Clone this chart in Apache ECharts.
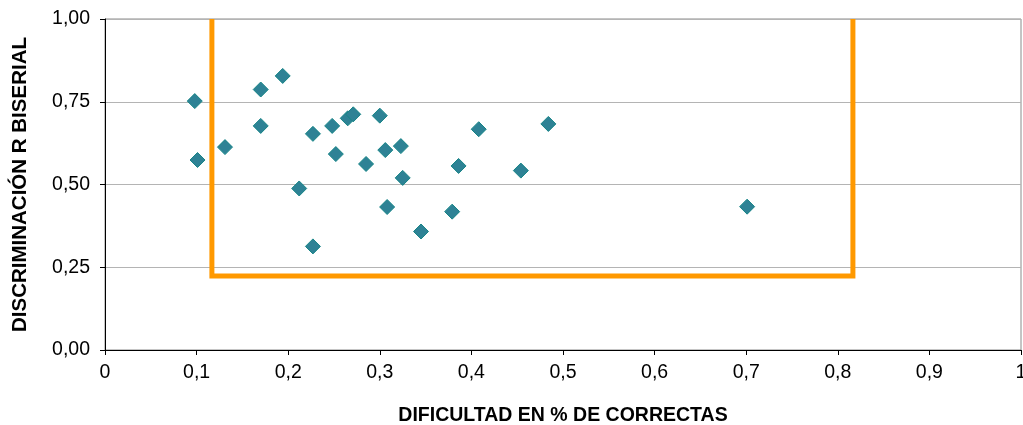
<!DOCTYPE html>
<html>
<head>
<meta charset="utf-8">
<script src="https://cdn.jsdelivr.net/npm/echarts@6/dist/echarts.min.js"></script>
<style>
html,body{margin:0;padding:0;background:#fff;}
#chart{width:1023px;height:425px;}
</style>
</head>
<body>
<div id="chart"></div>
<script>
// Dificultad (x) y discriminación (y) de cada ítem
var dificultad = [0.098, 0.101, 0.131, 0.170, 0.170, 0.194, 0.212, 0.227, 0.227, 0.248, 0.252, 0.265, 0.271, 0.285, 0.300, 0.306, 0.308, 0.323, 0.325, 0.345, 0.379, 0.386, 0.408, 0.454, 0.484, 0.701];
var discriminacion = [0.752, 0.574, 0.613, 0.787, 0.677, 0.828, 0.488, 0.653, 0.313, 0.677, 0.592, 0.700, 0.712, 0.562, 0.708, 0.604, 0.432, 0.616, 0.520, 0.358, 0.418, 0.556, 0.667, 0.542, 0.683, 0.433];
// Zona recomendada (rectángulo abierto por arriba)
var zonaX = [0.1167, 0.1167, 0.8165, 0.8165];
var zonaY = [1.0, 0.2236, 0.2236, 1.0];
var xTicks = [0, 0.1, 0.2, 0.3, 0.4, 0.5, 0.6, 0.7, 0.8, 0.9, 1];
var yTicks = [0, 0.25, 0.5, 0.75, 1];
var xTitle = 'DIFICULTAD EN % DE CORRECTAS';
var yTitle = 'DISCRIMINACIÓN R BISERIAL';

var FONT = 'Arial, "Liberation Sans", sans-serif';
var points = dificultad.map(function (x, i) { return [x, discriminacion[i]]; });
var zona = zonaX.map(function (x, i) { return [x, zonaY[i]]; });

var chart = echarts.init(document.getElementById('chart'), null, {renderer: 'canvas'});
chart.setOption({
  animation: false,
  backgroundColor: '#ffffff',
  grid: {left: 105, top: 19, right: 2, bottom: 75, containLabel: false, outerBoundsMode: 'none',
         show: true, borderColor: '#8a8a8a', borderWidth: 1, backgroundColor: 'transparent'},
  xAxis: {
    type: 'value', min: 0, max: 1, interval: 0.1,
    name: xTitle, nameLocation: 'middle', nameGap: 56,
    nameTextStyle: {fontFamily: FONT, fontSize: 19.5, fontWeight: 'bold', color: '#000'},
    axisLine: {show: true, onZero: false, lineStyle: {color: '#000', width: 1}},
    axisTick: {show: true, length: 5, lineStyle: {color: '#000'}},
    splitLine: {show: false},
    axisLabel: {
      margin: 13, fontFamily: FONT, fontSize: 19.5, color: '#000', hideOverlap: false,
      formatter: function (v) { return String(Math.round(v * 10) / 10).replace('.', ','); }
    }
  },
  yAxis: {
    type: 'value', min: 0, max: 1, interval: 0.25,
    name: yTitle, nameLocation: 'middle', nameGap: 74, nameRotate: 90,
    nameTextStyle: {fontFamily: FONT, fontSize: 20.5, fontWeight: 'bold', color: '#000'},
    axisLine: {show: true, onZero: false, lineStyle: {color: '#000', width: 1}},
    axisTick: {show: true, length: 5, lineStyle: {color: '#000'}},
    splitLine: {show: true, lineStyle: {color: '#b4b4b4', width: 1}},
    axisLabel: {
      margin: 15, fontFamily: FONT, fontSize: 19.5, color: '#000',
      formatter: function (v) { return v.toFixed(2).replace('.', ','); }
    }
  },
  series: [
    {
      type: 'line', data: zona, showSymbol: false, symbol: 'none', z: 2,
      lineStyle: {color: '#FF9900', width: 5, join: 'miter', cap: 'butt'},
      silent: true
    },
    {
      type: 'scatter', data: points, symbol: 'diamond', symbolSize: 15, z: 3,
      itemStyle: {color: '#2E8295', borderColor: '#168587', borderWidth: 1, opacity: 1}
    }
  ]
});
</script>
</body>
</html>
